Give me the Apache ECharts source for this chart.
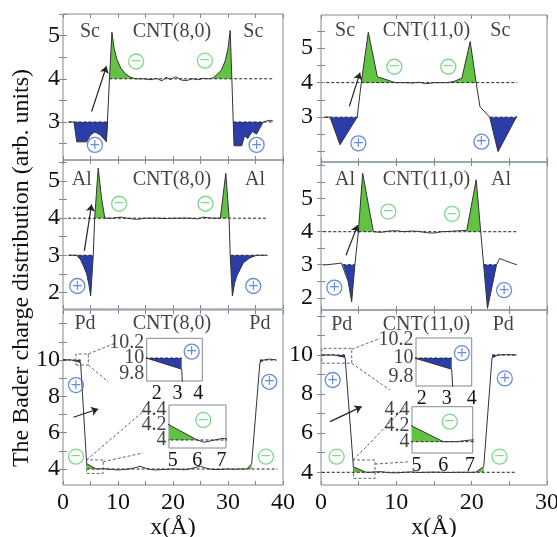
<!DOCTYPE html>
<html><head><meta charset="utf-8">
<script src="https://cdn.jsdelivr.net/npm/echarts@6/dist/echarts.min.js"></script>
<style>html,body{margin:0;padding:0;background:#fff}#c{width:557px;height:537px}</style>
</head><body><div id="c"></div>
<script>
// ================= DATA =================
const xTicksL = [0,5,10,15,20,25,30,35,40];
const xLabelsL = [0,10,20,30,40];
const xTicksR = [0,5,10,15,20,25,30];
const xLabelsR = [0,10,20,30];
const yTicksSc = [2,2.5,3,3.5,4,4.5,5,5.5];
const yLabelsSc = [3,4,5];
const yTicksAl = [2,2.5,3,3.5,4,4.5,5,5.5,6];
const yLabelsAl = [2,3,4,5];
const yTicksPd = [4,5,6,7,8,9,10,11,12];
const yLabelsPd = [4,6,8,10];
const inTop_xTicks = [2,2.5,3,3.5,4], inTop_xLabels = [2,3,4];
const inTop_yTicks = [9.8,9.9,10,10.1,10.2], inTop_yLabels = ['9.8','10','10.2'];
const inBot_xTicks = [5,5.5,6,6.5,7], inBot_xLabels = [5,6,7];
const inBot_yTicks = [4,4.1,4.2,4.3,4.4], inBot_yLabels = ['4','4.2','4.4'];

// Bader charge profiles [x (Å), charge]
const curveScCNT8 = [[1.0,3.0],[2.0,3.0],[2.5,2.54],[4.3,2.54],[5.0,2.7],[5.8,2.77],[6.8,2.7],[7.9,2.54],[8.1,2.54],[8.45,4.0],[8.9,5.08],[9.3,4.7],[9.8,4.45],[10.5,4.25],[11.3,4.12],[12.2,4.04],[13.2,4.0],[14.5,4.0],[16,3.98],[17,4.01],[18,3.95],[18.7,4.04],[19.5,3.98],[20.5,4.05],[21.5,3.97],[22.5,3.96],[23.5,4.0],[24.5,3.98],[25.5,4.01],[26.5,4.0],[27.3,4.02],[28.0,4.1],[28.8,4.2],[29.5,4.42],[30.0,4.7],[30.4,5.12],[30.7,4.0],[30.95,3.0],[31.1,2.45],[32.5,2.45],[33.0,2.68],[33.6,2.62],[34.4,2.78],[35.2,2.72],[36.4,3.0],[37.5,3.04],[38.2,3.02]];
const curveScCNT11 = [[0.5,3.0],[1.2,3.0],[2.52,2.2],[4.8,3.0],[5.0,3.03],[5.35,4.0],[6.28,5.46],[7.48,4.17],[8.76,4.08],[9.83,4.0],[11,4.0],[12,3.99],[13,4.01],[14,3.97],[15,4.0],[16.7,4.0],[17.6,4.03],[18.7,4.13],[19.8,5.19],[20.6,4.0],[21.1,3.3],[22.4,3.0],[23.5,2.0],[26.0,3.03]];
const curveAlCNT8 = [[1.0,3.0],[2.5,3.0],[3.2,2.88],[3.7,2.72],[4.3,2.5],[4.7,2.22],[5.03,1.9],[5.5,3.0],[5.76,4.0],[6.4,5.35],[7.0,4.55],[7.6,4.0],[9,4.0],[10.5,4.03],[12,3.99],[13.5,3.97],[15,4.0],[17,4.0],[19,3.99],[21,4.0],[23,4.0],[24.5,3.98],[25.5,4.03],[27,4.0],[28.6,4.0],[29.6,5.21],[30.2,4.0],[30.4,3.0],[30.8,1.9],[31.2,2.25],[31.6,2.44],[32.8,2.8],[34.0,2.93],[35.2,3.0],[37.0,3.0]];
const curveAlCNT11 = [[0.3,2.99],[1.6,3.02],[2.7,3.05],[2.9,3.0],[3.6,2.5],[4.07,1.88],[4.5,3.0],[4.96,4.0],[5.53,5.77],[6.95,4.0],[8,3.98],[9,4.02],[10,4.03],[11,4.0],[12,4.02],[13,4.01],[14,3.97],[15,3.96],[16,4.0],[17,4.01],[18.5,4.03],[19.35,4.04],[20.6,5.57],[21.2,4.0],[22.1,1.68],[23.3,3.0],[23.7,3.19],[24.5,3.12],[25.3,3.05],[26.0,3.0]];
const curvePdCNT8 = [[0,10.02],[1.5,10.0],[3.2,9.86],[4.3,4.3],[6.0,4.0],[6.3,3.97],[7.0,4.02],[8,4.0],[9,3.97],[10,3.95],[11,3.97],[12,4.0],[13,4.06],[14,4.15],[15,4.05],[16,3.97],[17,3.95],[18,3.97],[19,3.98],[20,4.0],[21,3.98],[22,3.96],[23,4.0],[24,4.08],[25,4.15],[26,4.05],[27,3.98],[28,3.97],[29,3.98],[30,4.0],[31,3.98],[32,4.0],[33.4,4.0],[34.3,4.28],[35.8,9.85],[36.5,10.0],[37.5,10.05],[38.8,10.0]];
const curvePdCNT11 = [[0.1,10.0],[1.7,10.0],[3.2,9.88],[4.3,4.28],[6.0,4.0],[6.5,4.0],[7,4.02],[8,4.03],[9,3.98],[10,3.97],[11,4.0],[12,4.02],[13,3.99],[14,4.0],[15,4.01],[16,4.0],[17,3.99],[18,4.0],[19,4.0],[20.5,4.0],[21.6,4.29],[22.7,9.85],[23.5,10.0],[24.5,10.02],[26,10.0]];

// shaded regions: [base, direction(+1 above / -1 below), xFrom, xTo]
const shadeScCNT8 = [[4,1,8.3,13.3],[4,1,26.9,30.8],[3,-1,0.9,8.3],[3,-1,30.9,38.3]];
const shadeScCNT11 = [[4,1,5.3,9.9],[4,1,16.5,20.7],[3,-1,1.1,4.9],[3,-1,22.3,26.1]];
const shadeAlCNT8 = [[4,1,5.7,7.7],[4,1,28.5,30.3],[3,-1,2.4,5.6],[3,-1,30.3,35.3]];
const shadeAlCNT11 = [[4,1,4.9,7.0],[4,1,19.3,21.3],[3,-1,2.8,4.6],[3,-1,21.3,23.4]];
const shadePdCNT8 = [[4,1,4.2,6.1],[4,1,33.3,34.4],[10,-1,1.4,3.3],[10,-1,35.7,36.6]];
const shadePdCNT11 = [[4,1,4.2,6.1],[4,1,20.4,21.7],[10,-1,1.6,3.3],[10,-1,22.6,23.6]];

// dashed reference levels: [level, xFrom, xTo]
const refScCNT8 = [[4,8.4,38.2],[3,1.0,8.2],[3,31.0,38.2]];
const refScCNT11 = [[4,0.7,26],[3,0.5,5.0],[3,22.4,26]];
const refAlCNT8 = [[4,0.9,37.2],[3,1.0,5.5],[3,30.5,37.2]];
const refAlCNT11 = [[4,0.3,26],[3,2.9,4.5],[3,21.6,23.3]];
const refPdCNT8 = [[4,4.3,39],[10,0,3.2],[10,35.8,38.8]];
const refPdCNT11 = [[4,0.1,26],[10,0.1,3.2],[10,22.7,26]];

// text annotations [text, x, y]
const txtScCNT8 = [['Sc',4.9,5.1],['CNT(8,0)',19.8,5.1],['Sc',34.6,5.1]];
const txtScCNT11 = [['Sc',3.2,5.5],['CNT(11,0)',14.0,5.5],['Sc',23.8,5.5]];
const txtAlCNT8 = [['Al',3.4,5.03],['CNT(8,0)',19.8,5.03],['Al',34.9,5.03]];
const txtAlCNT11 = [['Al',3.19,5.57],['CNT(11,0)',14.0,5.57],['Al',23.9,5.57]];
const txtPdCNT8 = [['Pd',4.0,12.0],['CNT(8,0)',19.8,12.0],['Pd',35.8,12.0]];
const txtPdCNT11 = [['Pd',2.75,11.53],['CNT(11,0)',14.0,11.53],['Pd',24.2,11.53]];

// charge sign markers [sign, x, y]
const sgnScCNT8 = [['+',5.8,2.47],['−',13.3,4.4],['−',25.8,4.42],['+',35.2,2.47]];
const sgnScCNT11 = [['+',4.96,2.24],['−',9.74,4.46],['−',16.9,4.46],['+',21.3,2.29]];
const sgnAlCNT8 = [['+',2.6,2.17],['−',10.2,4.39],['−',25.9,4.39],['+',34.6,2.17]];
const sgnAlCNT11 = [['+',1.77,2.31],['−',8.94,4.61],['−',17.4,4.54],['+',24.3,2.23]];
const sgnPdCNT8 = [['+',2.36,8.62],['−',2.36,4.68],['+',37.5,8.8],['−',36.9,4.68],['+',23.4,10.46],['−',25.5,6.7]];
const sgnPdCNT11 = [['+',1.55,8.72],['−',2.08,4.8],['+',24.4,8.8],['−',23.7,4.8],['+',18.7,10.09],['−',17.1,6.59]];

// arrows [[x1,y1],[x2,y2]]
const arrScCNT8 = [[[5.2,3.24],[7.9,4.29]]];
const arrScCNT11 = [[[3.77,3.32],[5.18,4.29]]];
const arrAlCNT8 = [[[3.88,3.12],[5.2,4.37]]];
const arrAlCNT11 = [[[3.32,3.29],[4.87,4.2]]];
const arrPdCNT8 = [[[1.88,6.85],[6.4,7.3]]];
const arrPdCNT11 = [[[1.2,6.59],[5.4,7.36]]];

// zoom boxes [x0,x1,y0,y1] and connector lines
const boxPdCNT8 = [[2.36,4.6,9.72,10.33],[4.3,7.3,3.76,4.5]];
const conPdCNT8 = [[[4.6,10.33],[9.45,10.92]],[[4.6,9.72],[8.24,8.8]],[[4.3,4.5],[14.9,7.25]],[[7.3,4.4],[14.5,4.88]]];
const boxPdCNT11 = [[0.1,4.08,9.58,10.34],[4.3,7.17,3.69,4.63]];
const conPdCNT11 = [[[4.08,10.29],[7.84,10.85]],[[4.08,9.58],[9.16,8.2]],[[4.3,4.63],[11.15,7.35]],[[7.17,4.42],[11.8,4.54]]];

// ================= BUILD =================
const FRAME = '#7d8b98', SERIF = '"Liberation Serif","Times New Roman",serif';
const GREEN = '#62c242', BLUE = '#2b3da8', PLUS = '#3d6fd9', MINUS = '#5fd070';
const grids = [], xAxis = [], yAxis = [], series = [];

function axisCommon(g, pos, r, ticks, labels, fs, margin) {
  return {type:'value', gridIndex:g, position:pos, min:r[0], max:r[1],
    axisLine:{show:false}, splitLine:{show:false},
    axisTick:{show:true, inside:true, length:4, customValues:ticks, lineStyle:{color:FRAME}},
    axisLabel:{show:!!labels, customValues:labels||[], fontSize:fs, fontFamily:SERIF, color:'#111', margin:margin, hideOverlap:false}};
}
function addPanel(rect, xr, yr, xt, xl, yt, yl, o) {
  o = o || {};
  const g = grids.length;
  grids.push({left:rect[0], top:rect[1], width:rect[2], height:rect[3], show:true, borderColor:FRAME, borderWidth:1,
    backgroundColor:o.bg||'transparent', outerBoundsMode:'none', z:o.z||0});
  const fs = o.fs || 24;
  const xi = xAxis.length;
  const xb = axisCommon(g,'bottom',xr,xt,xl,fs,o.xm||6);
  if (o.xname) { xb.name=o.xname; xb.nameLocation='middle'; xb.nameGap=26; xb.nameTextStyle={fontSize:24,fontFamily:SERIF,color:'#111'}; }
  xAxis.push(xb);
  xAxis.push(axisCommon(g,'top',xr,xt,null,fs,2));
  const yi = yAxis.length;
  yAxis.push(axisCommon(g,'left',yr,yt,o.yLabelSeries?null:yl,fs,o.ym||3));
  yAxis.push(axisCommon(g,'right',yr,yt,null,fs,2));
  if (o.yLabelSeries) {
    // tightly stacked inset tick labels, placed through the inset's own y scale
    series.push({type:'scatter', xAxisIndex:xi, yAxisIndex:yi, symbolSize:1, clip:false, itemStyle:{color:'rgba(0,0,0,0)'},
      data:yl.map(v => ({value:[xr[0], +v], name:v})),
      label:{show:true, position:'left', distance:2, formatter:'{b}', fontSize:fs, fontFamily:SERIF, color:'#111'},
      z:8, silent:true, animation:false});
  }
  return {xi:xi, yi:yi};
}
function fillPts(curve, base, dir, x0, x1) {
  const out = [];
  for (let i = 0; i < curve.length; i++) {
    const x = curve[i][0], y = curve[i][1];
    if (i > 0) {
      const px = curve[i-1][0], py = curve[i-1][1];
      if ((py-base)*(y-base) < 0) {
        const xc = px + (base-py)*(x-px)/(y-py);
        if (xc >= x0 && xc <= x1) out.push([xc, base]);
      }
    }
    if (x >= x0 && x <= x1) out.push([x, dir > 0 ? Math.max(y, base) : Math.min(y, base)]);
  }
  return out;
}
function drawProfile(ax, curve, shades, refs) {
  shades.forEach(s => series.push({type:'line', xAxisIndex:ax.xi, yAxisIndex:ax.yi, data:fillPts(curve,s[0],s[1],s[2],s[3]),
    symbol:'none', lineStyle:{width:0}, areaStyle:{color:s[1]>0?GREEN:BLUE, opacity:1, origin:s[0]}, z:3, silent:true, animation:false}));
  refs.forEach(r => series.push({type:'line', xAxisIndex:ax.xi, yAxisIndex:ax.yi, data:[[r[1],r[0]],[r[2],r[0]]],
    symbol:'none', lineStyle:{color:'#222', width:1, type:[3,2]}, z:4, silent:true, animation:false}));
  series.push({type:'line', xAxisIndex:ax.xi, yAxisIndex:ax.yi, data:curve, symbol:'none',
    lineStyle:{color:'#333', width:1}, z:5, silent:true, animation:false});
}
function drawNotes(ax, txt, sgn, arr) {
  series.push({type:'scatter', xAxisIndex:ax.xi, yAxisIndex:ax.yi, symbolSize:1, itemStyle:{color:'rgba(0,0,0,0)'},
    data:txt.map(t => ({value:[t[1],t[2]], name:t[0]})),
    label:{show:true, position:'inside', formatter:'{b}', fontSize:20, fontFamily:SERIF, color:'#111'}, z:7, silent:true, animation:false});
  series.push({type:'scatter', xAxisIndex:ax.xi, yAxisIndex:ax.yi, symbol:'circle', symbolSize:15,
    data:sgn.map(s => { const c = s[0]==='+'?PLUS:MINUS; return {value:[s[1],s[2]], itemStyle:{color:'rgba(255,255,255,0)', borderColor:c, borderWidth:1.3},
      label:{show:true, position:'inside', formatter:s[0], color:c, fontSize:14, fontFamily:'DejaVu Sans'}}; }),
    z:7, silent:true, animation:false});
  series.push({type:'lines', coordinateSystem:'cartesian2d', xAxisIndex:ax.xi, yAxisIndex:ax.yi,
    data:arr.map(a => ({coords:a})), symbol:['none','arrow'], symbolSize:[1,7],
    lineStyle:{color:'#222', width:1.2, opacity:1}, z:7, silent:true, animation:false});
}
function drawZoomBoxes(ax, boxes, cons) {
  series.push({type:'lines', coordinateSystem:'cartesian2d', polyline:true, xAxisIndex:ax.xi, yAxisIndex:ax.yi,
    data:boxes.map(b => ({coords:[[b[0],b[2]],[b[1],b[2]],[b[1],b[3]],[b[0],b[3]],[b[0],b[2]]]})).concat(cons.map(c => ({coords:c}))),
    lineStyle:{color:'#5a6a78', width:1, type:[3,2], opacity:1}, z:6, silent:true, animation:false});
}

// main panels
const pTL = addPanel([63,14,220,146],[0,40],[2.12,5.5],xTicksL,null,yTicksSc,yLabelsSc,{ym:3});
const pTR = addPanel([321,15,226,147],[0,30],[1.7,5.96],xTicksR,null,yTicksSc,yLabelsSc,{ym:8});
const pML = addPanel([63,160,220,149],[0,40],[1.55,5.57],xTicksL,null,yTicksAl,yLabelsAl,{ym:3});
const pMR = addPanel([321,162,226,148],[0,30],[1.63,6.11],xTicksR,null,yTicksAl,yLabelsAl,{ym:8});
const pBL = addPanel([63,310,220,175],[0,40],[3.12,12.75],xTicksL,xLabelsL,yTicksPd,yLabelsPd,{ym:3,xname:'x(Å)'});
const pBR = addPanel([321,310,226,175],[0,30],[3.35,12.3],xTicksR,xLabelsR,yTicksPd,yLabelsPd,{ym:8,xname:'x(Å)'});

drawProfile(pTL, curveScCNT8, shadeScCNT8, refScCNT8);   drawNotes(pTL, txtScCNT8, sgnScCNT8, arrScCNT8);
drawProfile(pTR, curveScCNT11, shadeScCNT11, refScCNT11); drawNotes(pTR, txtScCNT11, sgnScCNT11, arrScCNT11);
drawProfile(pML, curveAlCNT8, shadeAlCNT8, refAlCNT8);   drawNotes(pML, txtAlCNT8, sgnAlCNT8, arrAlCNT8);
drawProfile(pMR, curveAlCNT11, shadeAlCNT11, refAlCNT11); drawNotes(pMR, txtAlCNT11, sgnAlCNT11, arrAlCNT11);
drawProfile(pBL, curvePdCNT8, shadePdCNT8, refPdCNT8);   drawZoomBoxes(pBL, boxPdCNT8, conPdCNT8);
drawProfile(pBR, curvePdCNT11, shadePdCNT11, refPdCNT11); drawZoomBoxes(pBR, boxPdCNT11, conPdCNT11);

// insets
const inOpt = {fs:20, bg:'#fff', xm:3, z:1, yLabelSeries:true};
const iL1 = addPanel([146.7,338.3,55.6,42.7],[1.52,4.19],[9.71,10.25],inTop_xTicks,inTop_xLabels,inTop_yTicks,inTop_yLabels,inOpt);
const iL2 = addPanel([169,405,57,43],[4.85,7.18],[3.893,4.467],inBot_xTicks,inBot_xLabels,inBot_yTicks,inBot_yLabels,inOpt);
const iR1 = addPanel([416,338,55.7,48],[1.77,4.0],[9.7,10.215],inTop_xTicks,inTop_xLabels,inTop_yTicks,inTop_yLabels,inOpt);
const iR2 = addPanel([412,406.7,60.7,46.3],[4.83,7.1],[3.86,4.432],inBot_xTicks,inBot_xLabels,inBot_yTicks,inBot_yLabels,inOpt);
drawProfile(iL1, curvePdCNT8, shadePdCNT8, refPdCNT8);
drawProfile(iL2, curvePdCNT8, shadePdCNT8, refPdCNT8);
drawProfile(iR1, curvePdCNT11, shadePdCNT11, refPdCNT11);
drawProfile(iR2, curvePdCNT11, shadePdCNT11, refPdCNT11);
drawNotes(pBL, txtPdCNT8, sgnPdCNT8, arrPdCNT8);
drawNotes(pBR, txtPdCNT11, sgnPdCNT11, arrPdCNT11);

const chart = echarts.init(document.getElementById('c'), null, {renderer:'canvas'});
chart.setOption({
  animation:false,
  backgroundColor:'#fff',
  grid:grids, xAxis:xAxis, yAxis:yAxis, series:series,
  graphic:[{type:'text', x:22, y:268, rotation:Math.PI/2,
    style:{text:'The Bader charge distribution (arb. units)', fontSize:24, fontFamily:SERIF, fill:'#111', align:'center', verticalAlign:'middle'}}]
});
</script></body></html>
